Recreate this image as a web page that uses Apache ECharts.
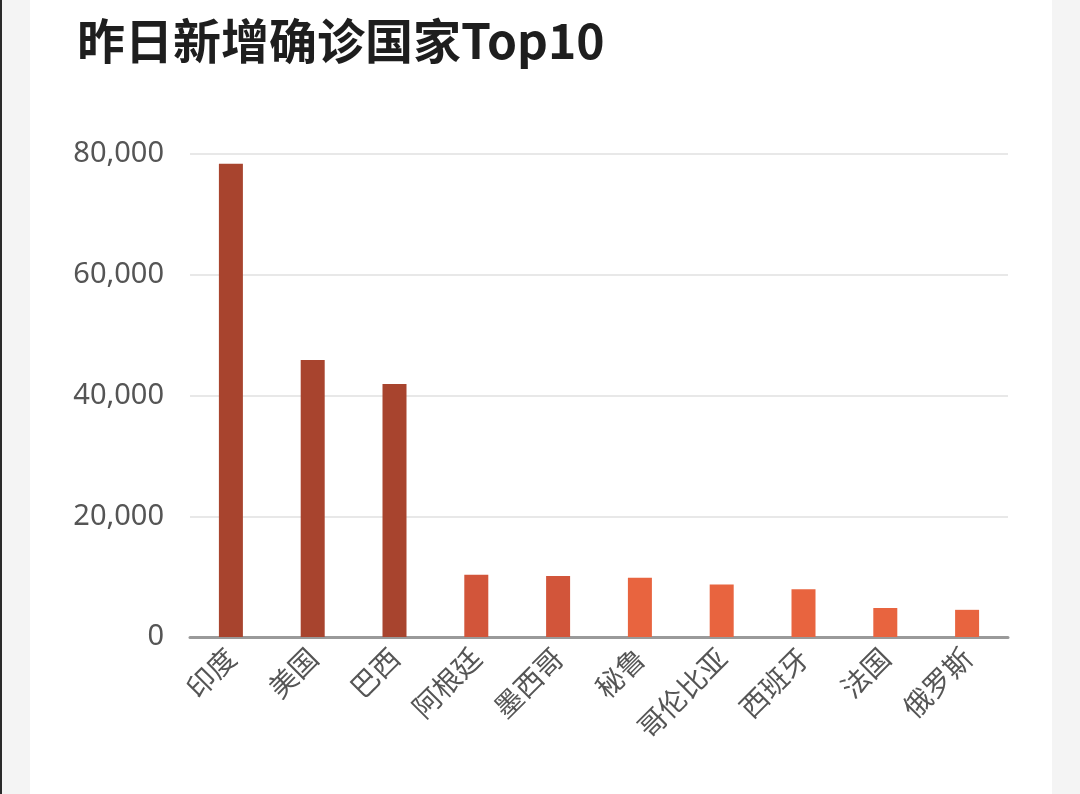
<!DOCTYPE html>
<html>
<head>
<meta charset="utf-8">
<script src="https://cdn.jsdelivr.net/npm/echarts@6/dist/echarts.min.js"></script>
<style>
html,body{margin:0;padding:0;background:#f4f4f4;}
#chart{width:1080px;height:794px;}
</style>
</head>
<body>
<div id="chart"></div>
<script>
const titleText = '昨日新增确诊国家Top10';
const countries = ['印度','美国','巴西','阿根廷','墨西哥','秘鲁','哥伦比亚','西班牙','法国','俄罗斯'];
const newCases = [78400, 45900, 41900, 10300, 10100, 9800, 8700, 7900, 4800, 4500];
const yTicks = [0, 20000, 40000, 60000, 80000];

const chart = echarts.init(document.getElementById('chart'));
const font = '"Noto Sans CJK SC","Noto Sans",sans-serif';
chart.setOption({
  backgroundColor: '#f4f4f4',
  graphic: [
    {type:'rect', shape:{x:0,y:0,width:2,height:794}, style:{fill:'#2a2a2a'}, z:-10},
    {type:'rect', shape:{x:30,y:0,width:1022,height:794}, style:{fill:'#ffffff'}, z:-10}
  ],
  title: {
    text: titleText, left: 72, top: 12,
    textStyle: {fontSize: 48, fontWeight: 'bold', color: '#1e1e1e', fontFamily: font}
  },
  grid: {left: 190, right: 72, top: 154, bottom: 157, containLabel: false},
  visualMap: {
    show: false, type: 'piecewise', dimension: 1, seriesIndex: 0,
    pieces: [
      {min: 20000, color: '#a8442e'},
      {min: 10000, max: 20000, color: '#d2553a'},
      {max: 10000, color: '#e8643f'}
    ]
  },
  xAxis: {
    type: 'category', data: countries,
    axisLine: {lineStyle: {color: '#9a9a9a', width: 3}},
    axisTick: {show: false},
    axisLabel: {rotate: 45, color: '#555', fontSize: 28, margin: 16, fontFamily: font, interval: 0}
  },
  yAxis: {
    type: 'value', min: yTicks[0], max: yTicks[yTicks.length-1], interval: yTicks[1]-yTicks[0],
    axisLine: {show: false}, axisTick: {show: false},
    splitLine: {lineStyle: {color: '#e8e8e8', width: 2}},
    axisLabel: {color: '#555', fontSize: 29, margin: 26, fontFamily: '"Noto Sans",sans-serif',
      formatter: v => v.toLocaleString('en-US')}
  },
  series: [{
    type: 'bar', data: newCases, barWidth: 24, animation: false
  }]
});
</script>
</body>
</html>
